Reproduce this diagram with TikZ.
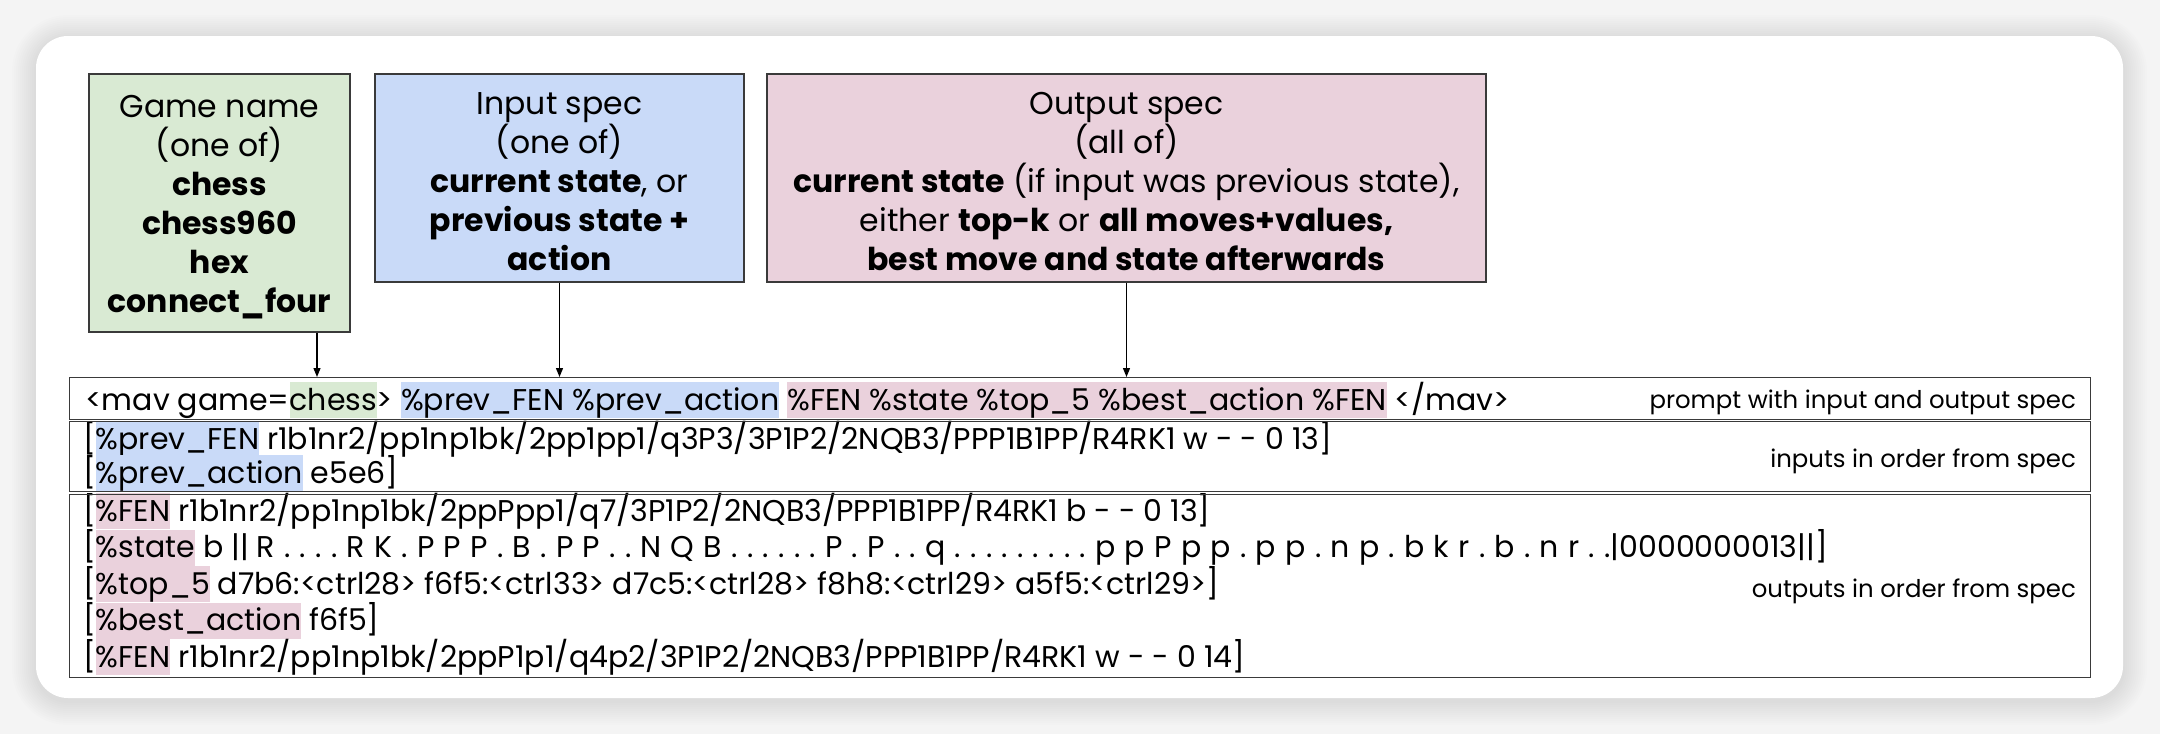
\documentclass[tikz,border=0pt]{standalone}
\usepackage{fontspec}
\setmainfont{Poppins}
\usetikzlibrary{positioning,arrows.meta,calc}
\definecolor{gamebg}{HTML}{D9EAD3}
\definecolor{inbg}{HTML}{C9DAF8}
\definecolor{outbg}{HTML}{EAD1DC}
\definecolor{edgegray}{HTML}{3A3A3A}
\definecolor{pagebg}{HTML}{F4F4F4}

% highlight behind a field name, one full line high
\newlength\hlht \setlength\hlht{28pt}
\newlength\hldp \setlength\hldp{8pt}
\newcommand\hlstrut{\rule[-\hldp]{0pt}{\dimexpr\hlht+\hldp\relax}}
\newcommand\hl[2]{{\setlength\fboxsep{0pt}\colorbox{#1}{\hlstrut#2}}}
\newcommand\board[1]{{\addfontfeatures{LetterSpace=31}#1}}

\begin{document}
\begin{tikzpicture}[
  x=1pt,y=-1pt,
  spec/.style={draw=edgegray,line width=1.4pt,inner sep=0pt,minimum height=208pt},
  spectxt/.style={align=center,inner sep=0pt,yshift=-4pt,
                  font=\fontsize{31.5}{39}\selectfont},
  row/.style={draw=edgegray,line width=1.3pt,anchor=north west,
              inner sep=0pt,minimum width=2021pt},
  ln/.style={anchor=base west,inner sep=0pt,font=\fontsize{30}{36}\selectfont},
  tag/.style={anchor=base east,inner sep=0pt,font=\fontsize{24.4}{28}\selectfont},
  feed/.style={-{Triangle[length=9pt,width=7pt]},line width=1.3pt},
]
\useasboundingbox (0,0) rectangle (2160,734);

% ---------------------------------------------------------------- card
\fill[pagebg] (0,0) rectangle (2160,734);
\foreach \k in {1,...,12} {
  \pgfmathsetmacro\rr{32+2*\k}
  \fill[black,opacity=0.006,rounded corners=\rr pt]
    (36-2*\k,39-2*\k) rectangle (2123+2*\k,701+2*\k);
}
\fill[white,rounded corners=32pt] (36,36) rectangle (2123,698);

% ---------------------------------------------------------------- spec boxes
\node[spec,fill=gamebg,minimum width=261pt,minimum height=258pt] (gamebox) at (219.5,203) {};
\node[spectxt] (gametxt) at (gamebox.center)
  {Game name\\(one of)\\\textbf{chess}\\\textbf{chess960}\\\textbf{hex}\\\textbf{connect\_four}};

\node[spec,fill=inbg,minimum width=369pt] (inbox) at (559.5,178) {};
\node[spectxt] (intxt) at (inbox.center)
  {Input spec\\(one of)\\\textbf{current state}, or\\\textbf{previous state +}\\\textbf{action}};

\node[spec,fill=outbg,minimum width=719pt] (outbox) at (1126.5,178) {};
\node[spectxt] (outtxt) at (outbox.center)
  {Output spec\\(all of)\\\textbf{current state} (if input was previous state),\\
   either \textbf{top-k} or \textbf{all moves+values,}\\\textbf{best move and state afterwards}};

% ---------------------------------------------------------------- sequence
\node[ln] (prompt) at (85,410)
  {<mav game=\hl{gamebg}{chess}> \hl{inbg}{\%prev\_FEN \%prev\_action}
   \hl{outbg}{\%FEN \%state \%top\_5 \%best\_action \%FEN} </mav>};

\node[ln] (in1) at (83,449)
  {[\hl{inbg}{\%prev\_FEN} r1b1nr2/pp1np1bk/2pp1pp1/q3P3/3P1P2/2NQB3/PPP1B1PP/R4RK1 w - - 0 13]};
\node[ln] (in2) at (83,483) {[\hl{inbg}{\%prev\_action} e5e6]};

\node[ln] (out1) at (83,521)
  {[\hl{outbg}{\%FEN} r1b1nr2/pp1np1bk/2ppPpp1/q7/3P1P2/2NQB3/PPP1B1PP/R4RK1 b - - 0 13]};
\node[ln] (out2) at (83,557.5)
  {[\hl{outbg}{\%state} b || \board{R....RK.PPP.B.PP..NQB......P.P..q.........ppPpp.pp.np.bkr.b.nr..}|0000000013||]};
\node[ln] (out3) at (83,594)
  {[\hl{outbg}{\%top\_5} d7b6:<ctrl28> f6f5:<ctrl33> d7c5:<ctrl28> f8h8:<ctrl29> a5f5:<ctrl29>]};
\node[ln] (out4) at (83,630.5) {[\hl{outbg}{\%best\_action} f6f5]};
\node[ln] (out5) at (83,667)
  {[\hl{outbg}{\%FEN} r1b1nr2/pp1np1bk/2ppP1p1/q4p2/3P1P2/2NQB3/PPP1B1PP/R4RK1 w - - 0 14]};

% frames on top of the highlights
\node[row,minimum height=42pt]  (promptrow) at (69,377) {};
\node[row,minimum height=70pt]  (inrow)     at (69,421) {};
\node[row,minimum height=183pt] (outrow)    at (69,494) {};

\node[tag] (tagprompt) at (2076,408) {prompt with input and output spec};
\node[tag] (tagin)     at (2076,467) {inputs in order from spec};
\node[tag] (tagout)    at (2076,597) {outputs in order from spec};

% ---------------------------------------------------------------- arrows
\coordinate (chessx) at (317,0);
\draw[feed] (gamebox.south -| chessx) -- (chessx |- promptrow.north);
\foreach \b in {inbox,outbox}
  \draw[feed] (\b.south) -- (\b.south |- promptrow.north);

\end{tikzpicture}
\end{document}
